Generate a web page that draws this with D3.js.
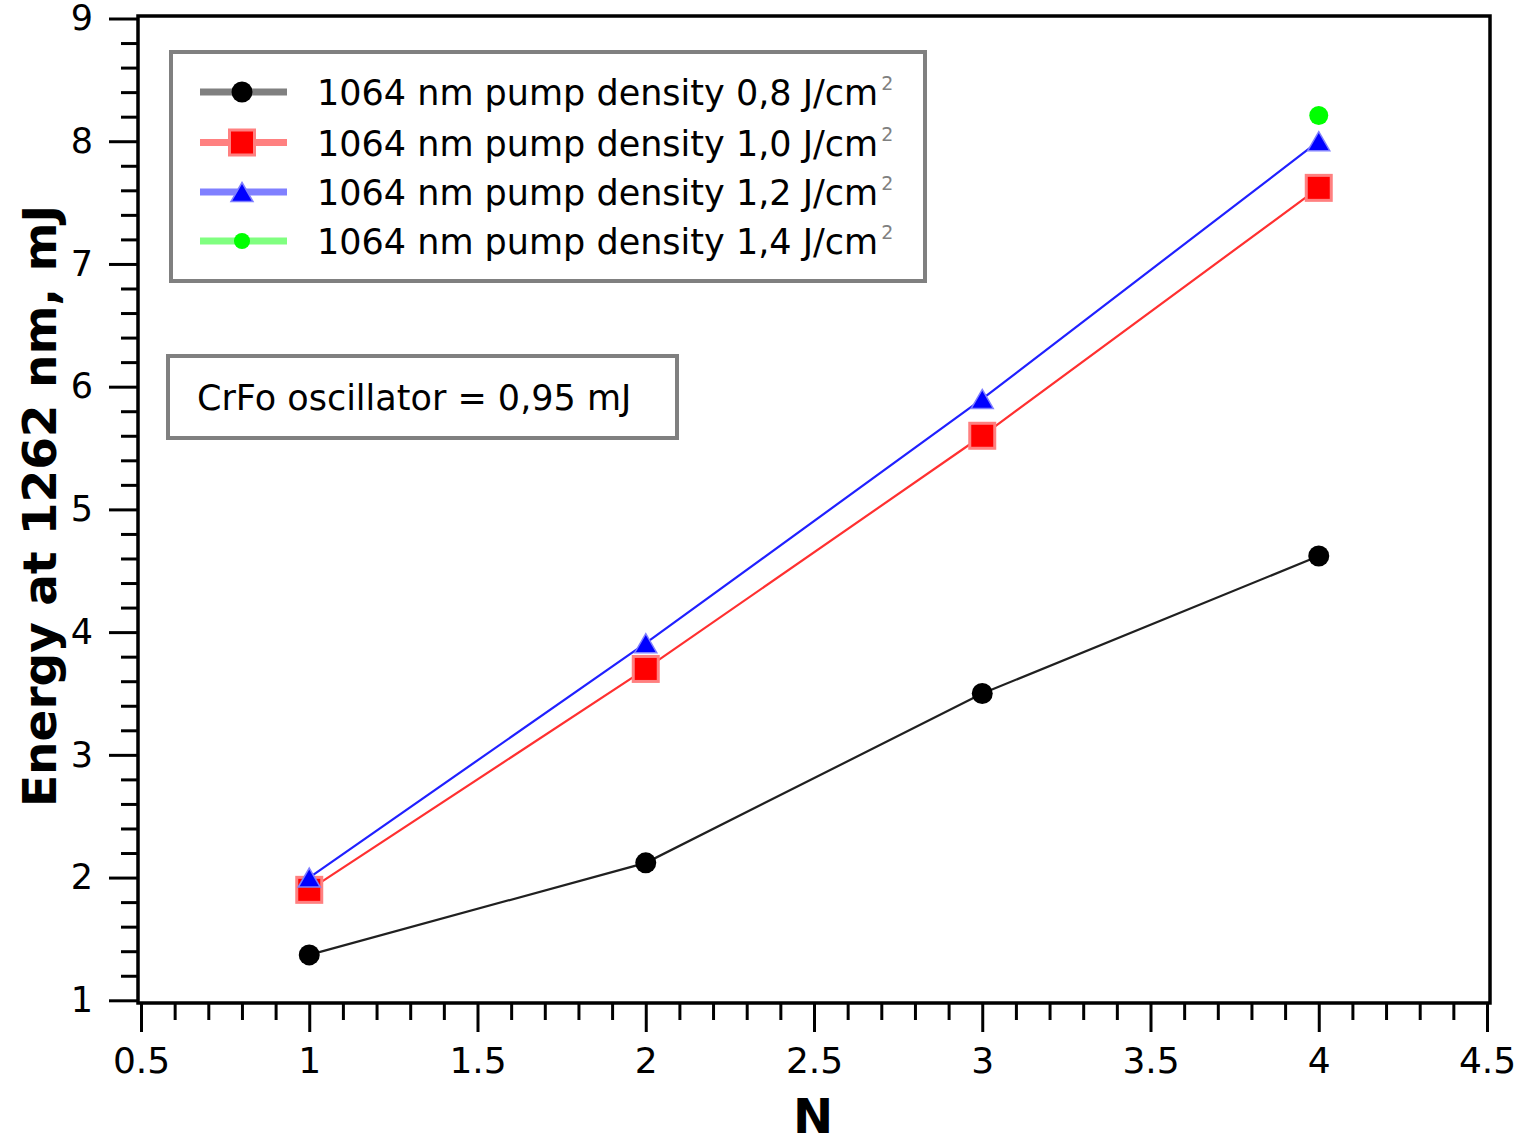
<!DOCTYPE html>
<html>
<head>
<meta charset="utf-8">
<script src="https://cdn.jsdelivr.net/npm/d3@7"></script>
<style>
  html, body { margin: 0; padding: 0; background: #ffffff; }
  svg { display: block; }
  text { font-family: "DejaVu Sans", Verdana, sans-serif; }
</style>
</head>
<body>
<svg id="chart" width="1519" height="1138"></svg>
<script>
// ---- data ----
const nValues = [1, 2, 3, 4];
const pump08 = [1.37, 2.12, 3.50, 4.62];
const pump10 = [1.90, 3.70, 5.60, 7.62];
const pump12 = [2.00, 3.91, 5.90, 8.00];
const pump14N = [4];
const pump14 = [8.21];
const seriesLabels = [
  "1064 nm pump density 0,8 J/cm",
  "1064 nm pump density 1,0 J/cm",
  "1064 nm pump density 1,2 J/cm",
  "1064 nm pump density 1,4 J/cm"
];
const xTickLabels = ["0.5", "1", "1.5", "2", "2.5", "3", "3.5", "4", "4.5"];
const yTickLabels = ["1", "2", "3", "4", "5", "6", "7", "8", "9"];
const xTitle = "N";
const yTitle = "Energy at 1262 nm, mJ";
const noteText = "CrFo oscillator = 0,95 mJ";

// ---- layout ----
const svg = d3.select("#chart");
const frame = { left: 138, top: 16, right: 1490, bottom: 1003 };
const x = d3.scaleLinear().domain([0.5, 4.5]).range([141, 1487]);
const y = d3.scaleLinear().domain([1, 9]).range([1000.3, 18.5]);

// frame
svg.append("rect")
  .attr("x", frame.left).attr("y", frame.top)
  .attr("width", frame.right - frame.left).attr("height", frame.bottom - frame.top)
  .attr("fill", "none").attr("stroke", "#000").attr("stroke-width", 3.5);

// x axis
const xMajor = xTickLabels.map(Number);
const xMinor = d3.range(5, 46).map(d => d / 10).filter(v => Math.abs(v * 2 - Math.round(v * 2)) > 1e-6);
const xAxisG = svg.append("g").attr("transform", `translate(0,${frame.bottom})`);
xAxisG.append("g")
  .call(d3.axisBottom(x).tickValues(xMinor).tickSize(17).tickFormat(""))
  .call(g => g.select(".domain").remove())
  .call(g => g.selectAll("line").attr("stroke", "#000").attr("stroke-width", 3));
xAxisG.append("g")
  .call(d3.axisBottom(x).tickValues(xMajor).tickSize(29).tickPadding(15)
    .tickFormat((d, i) => xTickLabels[i]))
  .call(g => g.select(".domain").remove())
  .call(g => g.selectAll("line").attr("stroke", "#000").attr("stroke-width", 3))
  .call(g => g.selectAll("text").attr("font-size", 36).attr("fill", "#000")
    .attr("font-family", "'DejaVu Sans', sans-serif"));

// y axis
const yMajor = yTickLabels.map(Number);
const yMinor = d3.range(5, 46).map(d => d / 5).filter(v => Math.abs(v - Math.round(v)) > 1e-6);
const yAxisG = svg.append("g").attr("transform", `translate(${frame.left},0)`);
yAxisG.append("g")
  .call(d3.axisLeft(y).tickValues(yMinor).tickSize(17).tickFormat(""))
  .call(g => g.select(".domain").remove())
  .call(g => g.selectAll("line").attr("stroke", "#000").attr("stroke-width", 3));
yAxisG.append("g")
  .call(d3.axisLeft(y).tickValues(yMajor).tickSize(29).tickPadding(16)
    .tickFormat((d, i) => yTickLabels[i]))
  .call(g => g.select(".domain").remove())
  .call(g => g.selectAll("line").attr("stroke", "#000").attr("stroke-width", 3))
  .call(g => g.selectAll("text").attr("font-size", 35).attr("fill", "#000")
    .attr("font-family", "'DejaVu Sans', sans-serif"));

// titles
svg.append("text")
  .attr("x", 813).attr("y", 1133)
  .attr("text-anchor", "middle")
  .attr("font-size", 48).attr("font-weight", "bold")
  .text(xTitle);
svg.append("text")
  .attr("transform", "translate(56,506) rotate(-90)")
  .attr("text-anchor", "middle")
  .attr("font-size", 47).attr("font-weight", "bold")
  .text(yTitle);

// ---- series ----
const line = d3.line().x(d => x(d[0])).y(d => y(d[1]));
function pts(xs, ys) { return xs.map((v, i) => [v, ys[i]]); }

const series = [
  { data: pts(nValues, pump08), stroke: "#202020", shape: "circle", fill: "#000" },
  { data: pts(nValues, pump10), stroke: "#ff3030", shape: "square", fill: "#ff0000" },
  { data: pts(nValues, pump12), stroke: "#2020ff", shape: "triangle", fill: "#0000ff" },
  { data: pts(pump14N, pump14), stroke: "#00ff00", shape: "dot", fill: "#00ff00" }
];
const lightStroke = ["#808080", "#ff8080", "#8080ff", "#80ff80"];

series.forEach(s => {
  if (s.data.length > 1) {
    svg.append("path").attr("d", line(s.data))
      .attr("fill", "none").attr("stroke", s.stroke).attr("stroke-width", 2.2);
  }
});

function drawMarker(g, shape, cx, cy, scale, i) {
  if (shape === "circle") {
    g.append("circle").attr("cx", cx).attr("cy", cy).attr("r", 10.5 * scale).attr("fill", "#000");
  } else if (shape === "square") {
    const s = 25 * scale;
    g.append("rect").attr("x", cx - s / 2).attr("y", cy - s / 2).attr("width", s).attr("height", s)
      .attr("fill", "#ff0000").attr("stroke", "#ff8080").attr("stroke-width", 3);
  } else if (shape === "triangle") {
    const w = 22 * scale, h = 19 * scale;
    g.append("path")
      .attr("d", `M${cx},${cy - h / 2}L${cx + w / 2},${cy + h / 2}L${cx - w / 2},${cy + h / 2}Z`)
      .attr("fill", "#0000ff").attr("stroke", "#8080ff").attr("stroke-width", 1.5);
  } else {
    g.append("circle").attr("cx", cx).attr("cy", cy).attr("r", 9.5 * scale).attr("fill", "#00ff00");
  }
}

const markers = svg.append("g");
series.forEach((s, i) => {
  s.data.forEach(d => drawMarker(markers, s.shape, x(d[0]), y(d[1]), 1, i));
});

// ---- legend ----
const legend = svg.append("g");
legend.append("rect").attr("x", 171).attr("y", 52).attr("width", 754).attr("height", 229)
  .attr("fill", "#fff").attr("stroke", "#808080").attr("stroke-width", 4);
const rowY = [92, 142.5, 192, 241];
series.forEach((s, i) => {
  const ry = rowY[i];
  legend.append("line").attr("x1", 200).attr("x2", 287).attr("y1", ry).attr("y2", ry)
    .attr("stroke", lightStroke[i]).attr("stroke-width", 7);
  drawMarker(legend, s.shape, 242, ry, i === 3 ? 0.85 : 1, i);
  const t = legend.append("text").attr("x", 317).attr("y", ry + 13)
    .attr("font-size", 35).attr("fill", "#000");
  t.append("tspan").text(seriesLabels[i]);
  t.append("tspan").attr("dy", -15).attr("dx", 3).attr("font-size", 19).attr("fill", "#808080").text("2");
});

// ---- note box ----
svg.append("rect").attr("x", 168).attr("y", 356).attr("width", 509).attr("height", 82)
  .attr("fill", "#fff").attr("stroke", "#808080").attr("stroke-width", 4);
svg.append("text").attr("x", 197).attr("y", 410)
  .attr("font-size", 35).attr("fill", "#000")
  .text(noteText);
</script>
</body>
</html>
